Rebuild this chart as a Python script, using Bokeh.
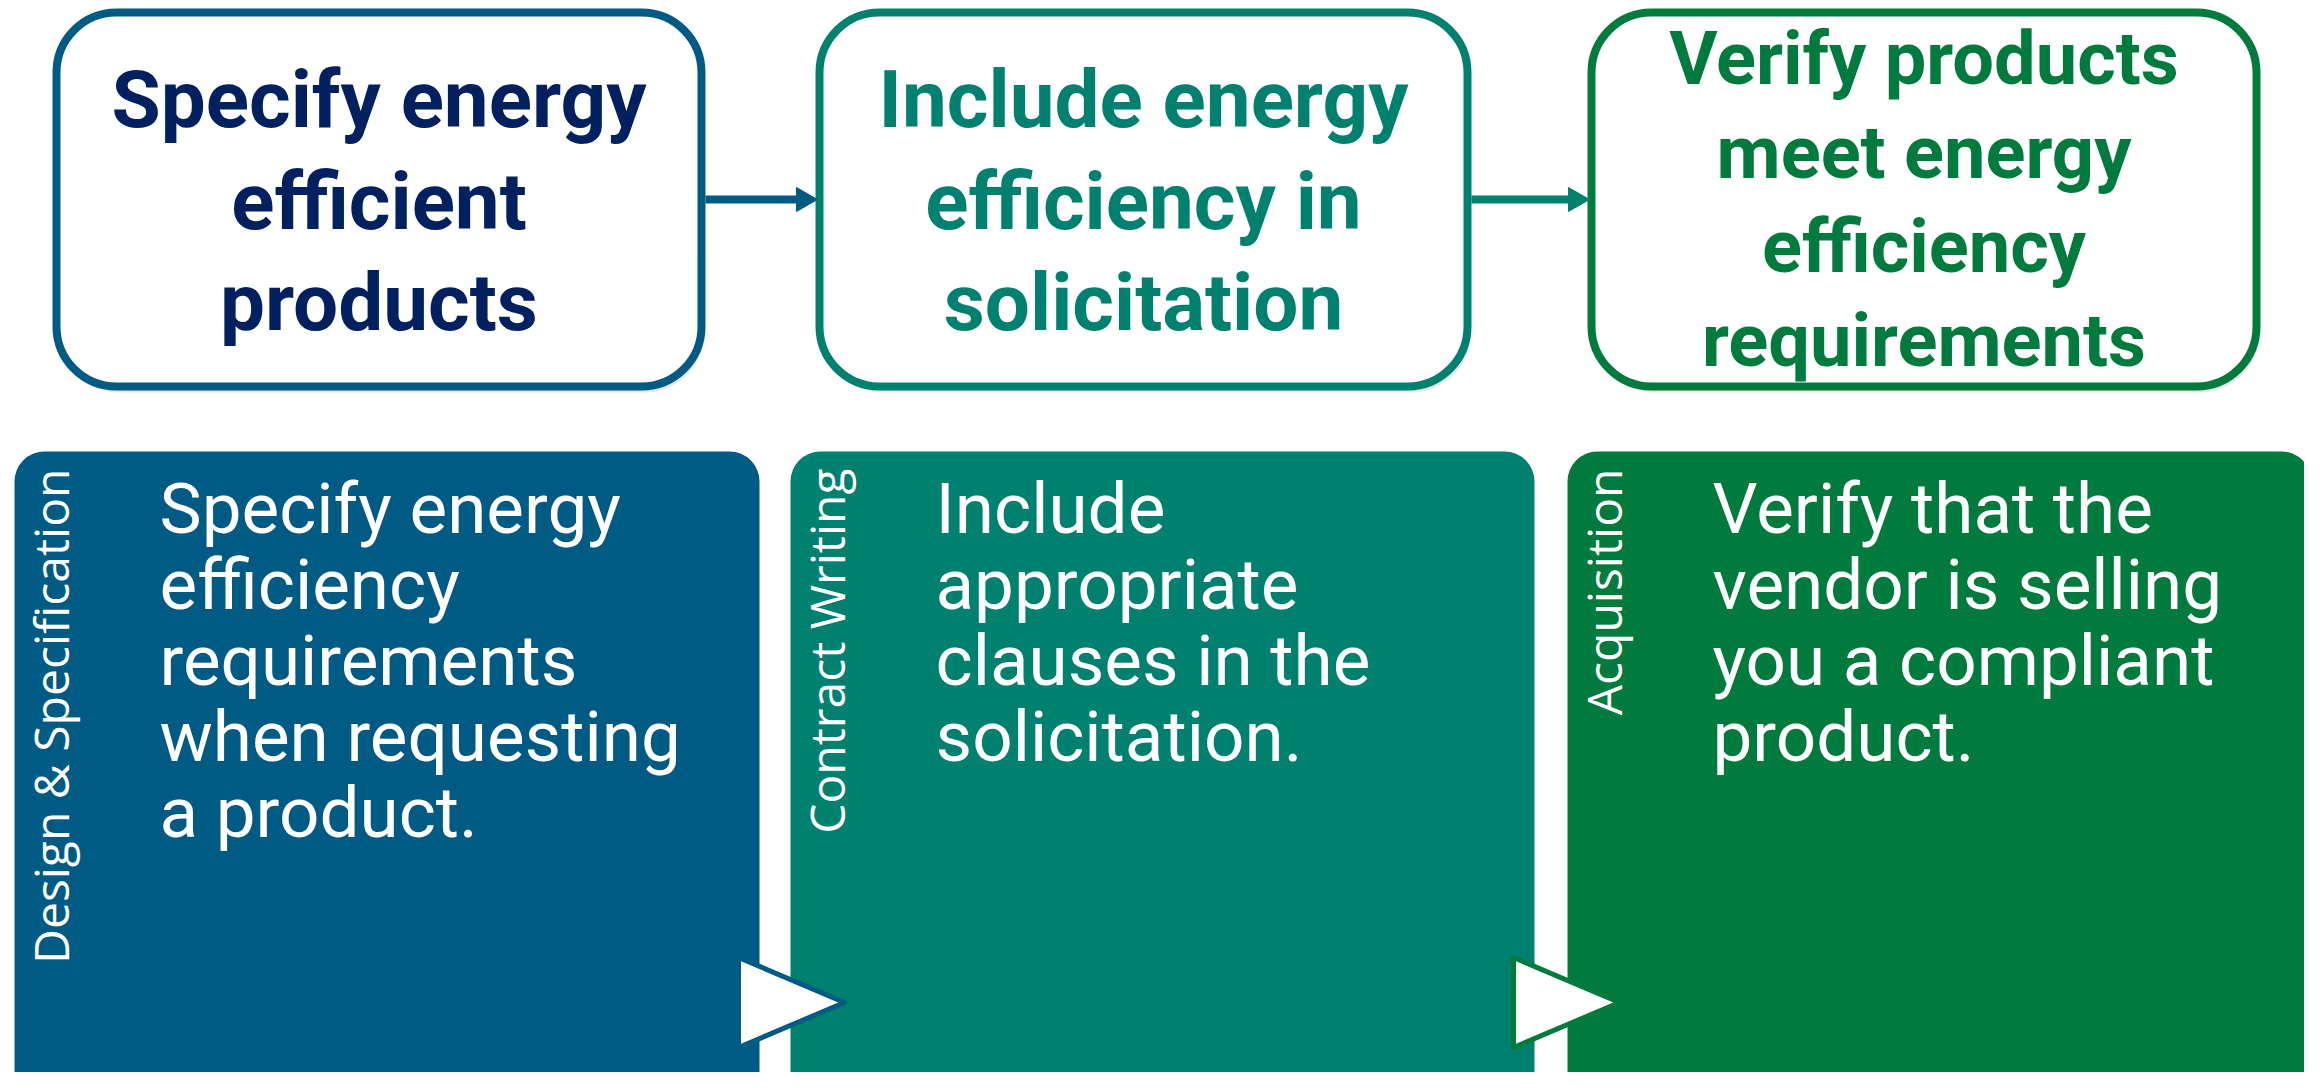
import math
from bokeh.plotting import figure
from bokeh.models import Range1d
from bokeh.core.properties import value
from bokeh.embed import file_html
from bokeh.resources import INLINE

# ---- content ----
stage_titles = [
    ["Specify energy", "efficient", "products"],
    ["Include energy", "efficiency in", "solicitation"],
    ["Verify products", "meet energy", "efficiency", "requirements"],
]
phase_labels = ["Design & Specification", "Contract Writing", "Acquisition"]
phase_texts = [
    ["Specify energy", "efficiency", "requirements", "when requesting", "a product."],
    ["Include", "appropriate", "clauses in the", "solicitation."],
    ["Verify that the", "vendor is selling", "you a compliant", "product."],
]
stage_colors = ["#005B84", "#00806F", "#007A3D"]
title_colors = ["#002060", "#00806F", "#007A3D"]

# ---- layout (screen px of the 2320x1088 page) ----
W, H = 2320, 1088
def Y(ys):
    return H - ys

top_lr = [(56, 701), (819, 1467), (1591, 2256)]
top_y0, top_y1 = 12, 386
title_size = [80, 80, 74]
bot_lr = [(14, 759), (790, 1534), (1567, 2311)]
bot_y0, bot_y1 = 451, 1100

p = figure(width=2304, height=1072, output_backend="svg", toolbar_location=None,
           x_range=Range1d(0, 2304), y_range=Range1d(H - 1072, H),
           x_axis_location=None, y_axis_location=None, min_border=0)
p.grid.visible = False
p.outline_line_color = None
p.background_fill_color = "white"

# top boxes with soft shadow
for i, (l, r) in enumerate(top_lr):
    p.quad(left=l + 3, right=r + 3, top=Y(top_y0 + 6), bottom=Y(top_y1 + 6),
           border_radius=60, fill_color="#000000", fill_alpha=0.10, line_color=None)
    p.quad(left=l, right=r, top=Y(top_y0), bottom=Y(top_y1), border_radius=60,
           fill_color="white", line_color=stage_colors[i], line_width=8)
    fs = title_size[i]
    n = len(stage_titles[i])
    cy = (top_y0 + top_y1) / 2
    spacing = 1.27 * fs
    xs, ys = [], []
    for k, line in enumerate(stage_titles[i]):
        xs.append((l + r) / 2)
        ys.append(Y(cy + (k - (n - 1) / 2) * spacing + 0.4 * fs - 30))
    p.text(x=xs, y=ys, text=stage_titles[i], text_align="center",
           text_baseline="alphabetic", text_font=value("Roboto"),
           text_font_style="bold", text_font_size=f"{fs}px",
           text_color=title_colors[i])

# top arrows
for i in range(2):
    x0 = top_lr[i][1] + 4
    x1 = top_lr[i + 1][0] - 2
    ay = (top_y0 + top_y1) / 2
    p.segment(x0=[x0], y0=[Y(ay)], x1=[x1 - 18], y1=[Y(ay)],
              line_color=stage_colors[i], line_width=8)
    p.patch(x=[x1 - 21, x1 - 21, x1], y=[Y(ay - 12), Y(ay + 12), Y(ay)],
            fill_color=stage_colors[i], line_color=stage_colors[i], line_width=1)

# bottom boxes
for i, (l, r) in enumerate(bot_lr):
    p.quad(left=l, right=r, top=Y(bot_y0), bottom=Y(bot_y1), border_radius=30,
           fill_color=stage_colors[i], line_color=None)
    # rotated phase label
    p.text(x=[l + 36], y=[Y(468)], text=[phase_labels[i]], angle=math.pi / 2,
           text_align="right", text_baseline="alphabetic",
           text_font=value("Open Sans"), text_font_size="48px", text_color="white")
    # body text
    lines = phase_texts[i]
    p.text(x=[l + 145] * len(lines), y=[Y(508 + 76 * k) for k in range(len(lines))],
           text=lines, text_align="left", text_baseline="alphabetic",
           text_font=value("Roboto"), text_font_size="71px", text_color="white")

# chevrons between bottom boxes
tri_colors = [stage_colors[0], stage_colors[2]]
for i in range(2):
    lx = bot_lr[i][1] - 21
    cy = 1002
    p.patch(x=[lx, lx, lx + 106], y=[Y(cy - 45), Y(cy + 45), Y(cy)],
            fill_color="white", line_color=tri_colors[i], line_width=5,
            line_join="round")

open("out.html", "w").write(file_html(p, INLINE))
